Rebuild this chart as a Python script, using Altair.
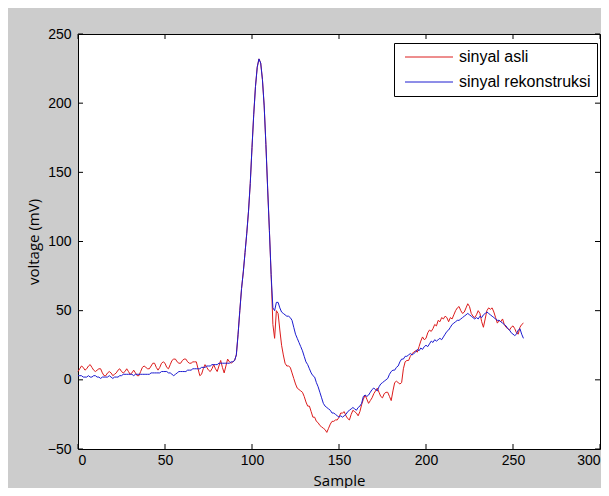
import altair as alt
import pandas as pd

# ---- data ----
series_names = ["sinyal asli", "sinyal rekonstruksi"]

sinyal_asli = [
    6, 8, 10, 9, 7, 8, 10, 11, 9, 7,
    6, 7, 8, 8, 5, 3, 3, 5, 6, 5,
    3, 4, 5, 7, 8, 6, 5, 6, 8, 6,
    4, 5, 7, 5, 3, 3, 6, 9, 10, 9,
    8, 8, 10, 12, 12, 9, 7, 9, 12, 13,
    12, 9, 8, 11, 14, 15, 15, 13, 12, 12,
    14, 15, 15, 13, 12, 12, 13, 13, 13, 8,
    3, 4, 8, 11, 9, 7, 6, 8, 11, 8,
    6, 10, 14, 9, 5, 10, 15, 13, 12, 13,
    14, 18, 33, 50, 66, 78, 92, 106, 122, 142,
    168, 192, 212, 226, 232, 229, 217, 198, 170, 138,
    108, 76, 40, 30, 50, 48, 36, 25, 18, 12,
    10, 10, 9, 5, 1, -3, -6, -7, -8, -9,
    -12, -16, -19, -19, -23, -27, -27, -30, -31, -33,
    -34, -35, -36, -38, -35, -32, -30, -30, -29, -29,
    -27, -24, -24, -23, -26, -28, -29, -25, -22, -23,
    -24, -26, -23, -18, -14, -11, -14, -17, -15, -13,
    -10, -8, -6, -9, -12, -13, -10, -9, -9, -12,
    -15, -8, -2, -1, -2, -3, -2, 8, 13, 14,
    14, 17, 19, 20, 21, 20, 24, 28, 31, 29,
    30, 34, 36, 35, 37, 40, 39, 43, 42, 45,
    44, 46, 45, 42, 45, 44, 47, 50, 52, 53,
    50, 48, 49, 52, 55, 53, 48, 46, 45, 47,
    50, 48, 42, 38, 44, 50, 52, 51, 52, 49,
    45, 41, 43, 42, 44, 40, 38, 37, 36, 38,
    39, 37, 34, 33, 38, 40, 41,
]

sinyal_rekonstruksi = [
    3, 3, 3, 2, 2, 2, 3, 2, 2, 3,
    3, 2, 2, 1, 2, 2, 2, 2, 3, 2,
    1, 2, 2, 2, 3, 3, 4, 4, 4, 4,
    4, 4, 3, 4, 4, 4, 4, 4, 4, 4,
    4, 4, 5, 5, 5, 5, 5, 5, 6, 6,
    6, 6, 5, 5, 4, 3, 4, 5, 6, 6,
    6, 6, 6, 7, 7, 7, 8, 8, 8, 8,
    8, 9, 9, 9, 10, 10, 10, 11, 11, 11,
    11, 12, 12, 12, 12, 12, 12, 12, 13, 13,
    14, 18, 33, 50, 66, 78, 92, 106, 122, 142,
    168, 192, 212, 226, 232, 229, 217, 198, 170, 138,
    108, 76, 52, 50, 56, 56, 52, 49, 48, 47,
    46, 46, 45, 43, 38, 33, 30, 27, 24, 21,
    17, 13, 11, 8, 5, 3, 2, -2, -5, -9,
    -13, -17, -19, -20, -21, -22, -24, -24, -25, -26,
    -27, -26, -27, -26, -25, -23, -22, -21, -20, -21,
    -22, -20, -19, -17, -12, -11, -12, -11, -9, -7,
    -6, -7, -8, -5, -3, -2, -1, 0, 1, 4,
    6, 7, 7, 9, 10, 13, 15, 15, 17, 17,
    18, 19, 18, 19, 20, 22, 21, 23, 22, 24,
    25, 24, 26, 28, 27, 29, 28, 29, 30, 29,
    31, 33, 35, 36, 38, 40, 41, 42, 43, 43,
    44, 45, 46, 47, 48, 47, 46, 45, 44, 45,
    44, 46, 45, 47, 48, 49, 48, 47, 46, 45,
    44, 43, 43, 42, 41, 40, 39, 37, 36, 34,
    33, 32, 33, 36, 37, 33, 30,
]

x_ticks = [0, 50, 100, 150, 200, 250, 300]
y_ticks = [-50, 0, 50, 100, 150, 200, 250]

# ---- build tables ----
rows = []
for name, vals in zip(series_names, [sinyal_asli, sinyal_rekonstruksi]):
    for i, v in enumerate(vals):
        rows.append({"sample": i, "value": v, "series": name})
df = pd.DataFrame(rows)
xt = pd.DataFrame({"sample": x_ticks})
yt = pd.DataFrame({"value": y_ticks})

W, H = 522, 415
TK = 5
LBL_FONT = "Liberation Sans"
TTL_FONT = "Open Sans"

xscale = alt.Scale(domain=[0, 300], nice=False, zero=False)
yscale = alt.Scale(domain=[-50, 250], nice=False, zero=False)

xaxis = alt.Axis(values=x_ticks, title="Sample", ticks=False, domain=False, grid=False,
                 labelPadding=4, labelFont=LBL_FONT, labelFontSize=14, labelColor="black",
                 titleFont=TTL_FONT, titleFontSize=15, titleFontWeight="normal",
                 titleColor="black", titlePadding=2, titleBaseline="bottom", titleY=39)
yaxis = alt.Axis(values=y_ticks, title="voltage (mV)", ticks=False, domain=False, grid=False,
                 labelPadding=7, labelFont=LBL_FONT, labelFontSize=14, labelColor="black",
                 titleFont=TTL_FONT, titleFontSize=15, titleFontWeight="normal",
                 titleColor="black", titlePadding=6)

X = alt.X("sample:Q", scale=xscale, axis=xaxis)
Y = alt.Y("value:Q", scale=yscale, axis=yaxis)

lines = alt.Chart(df).mark_line(strokeWidth=1).encode(
    x=X, y=Y,
    color=alt.Color("series:N",
                    scale=alt.Scale(domain=series_names, range=["#dc1c1c", "#1c1cd0"]),
                    legend=alt.Legend(title=None, orient="none", legendX=316, legendY=9,
                                      fillColor="white", strokeColor="black", padding=6,
                                      symbolType="M-0.5,0H7.5", symbolSize=144,
                                      symbolStrokeWidth=1, labelOffset=43, rowPadding=9,
                                      labelFont=LBL_FONT, labelFontSize=16,
                                      labelColor="black")),
)

tick_bottom = alt.Chart(xt).mark_rule(color="black", strokeWidth=1).encode(
    x=X, y=alt.value(H), y2=alt.value(H - TK))
tick_top = alt.Chart(xt).mark_rule(color="black", strokeWidth=1).encode(
    x=X, y=alt.value(0), y2=alt.value(TK))
tick_left = alt.Chart(yt).mark_rule(color="black", strokeWidth=1).encode(
    y=Y, x=alt.value(0), x2=alt.value(TK))
tick_right = alt.Chart(yt).mark_rule(color="black", strokeWidth=1).encode(
    y=Y, x=alt.value(W), x2=alt.value(W - TK))

chart = alt.layer(lines, tick_bottom, tick_top, tick_left, tick_right).properties(
    width=W, height=H,
    autosize=alt.AutoSizeParams(type="none"),
    padding={"left": 70, "top": 26, "right": 1, "bottom": 39},
    background="#cccccc",
).configure_view(fill="white", stroke="black", strokeWidth=1)

chart.save("out.html", embed_options={"renderer": "svg", "actions": False})
